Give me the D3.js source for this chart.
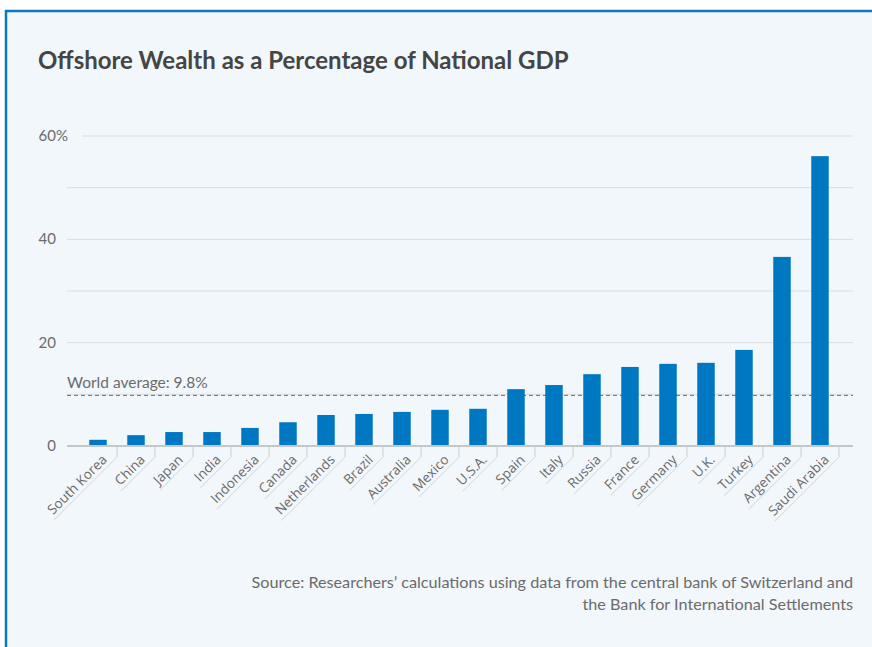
<!DOCTYPE html>
<meta charset="utf-8">
<head>
    <title>Offshore Wealth</title>
    <script type="text/javascript" src="https://cdn.jsdelivr.net/npm/d3@7"></script>
    <style>
        body {
            margin: 0;
            padding: 0;
            background: #fff;
        }
        text { font-family: Lato, sans-serif; }
        .xlab { font-family: "Open Sans", sans-serif; font-size: 13.5px; fill: #6b6b6b; }
    </style>
</head>

<body>
    <script>
        // Data
        const countries = ["South Korea", "China", "Japan", "India", "Indonesia", "Canada", "Netherlands",
            "Brazil", "Australia", "Mexico", "U.S.A.", "Spain", "Italy", "Russia", "France", "Germany",
            "U.K.", "Turkey", "Argentina", "Saudi Arabia"];
        const shares = [1.2, 2.1, 2.7, 2.7, 3.5, 4.6, 6.0, 6.2, 6.6, 7.0, 7.2, 11.0, 11.8, 13.9, 15.3,
            15.9, 16.1, 18.6, 36.6, 56.1];
        const yTicks = [0, 20, 40, 60];
        const gridTicks = [0, 10, 20, 30, 40, 50, 60];
        const worldAverage = 9.8;

        const width = 872, height = 647;
        const plot = {left: 67, right: 853, top: 136, bottom: 446};

        const svg = d3.select("body")
            .append("svg")
            .attr("width", width)
            .attr("height", height);

        // panel background and blue border
        svg.append("rect")
            .attr("x", 6).attr("y", 11)
            .attr("width", width).attr("height", height)
            .attr("fill", "#f2f7fb");
        svg.append("line")
            .attr("x1", 5).attr("x2", width).attr("y1", 11).attr("y2", 11)
            .attr("stroke", "#0a78c4").attr("stroke-width", 2.5);
        svg.append("line")
            .attr("x1", 6).attr("x2", 6).attr("y1", 10).attr("y2", height)
            .attr("stroke", "#0a78c4").attr("stroke-width", 2.5);

        svg.append("text")
            .attr("x", 38).attr("y", 69)
            .attr("font-size", 24).attr("font-weight", "bold")
            .attr("fill", "#454545")
            .text("Offshore Wealth as a Percentage of National GDP");

        const x = d3.scaleBand()
            .domain(countries)
            .range([79, 839])
            .paddingInner(0.54)
            .paddingOuter(0.27);

        const y = d3.scaleLinear()
            .domain([0, 60])
            .range([plot.bottom, plot.top]);

        // gridlines
        svg.append("g")
            .selectAll("line")
            .data(gridTicks.filter(d => d > 0))
            .enter()
            .append("line")
            .attr("x1", d => d === 60 ? 82 : plot.left)
            .attr("x2", plot.right)
            .attr("y1", d => y(d)).attr("y2", d => y(d))
            .attr("stroke", "#d9dcdf").attr("stroke-width", 1);

        // y labels
        svg.append("g")
            .selectAll("text")
            .data(yTicks)
            .enter()
            .append("text")
            .attr("x", 56)
            .attr("y", d => y(d) + 5)
            .attr("text-anchor", "end")
            .attr("font-size", 15)
            .attr("fill", "#6b6b6b")
            .text(d => d);
        svg.append("text")
            .attr("x", 56).attr("y", y(60) + 5)
            .attr("font-size", 15).attr("fill", "#6b6b6b")
            .text("%");

        // world average
        svg.append("line")
            .attr("x1", plot.left).attr("x2", plot.right)
            .attr("y1", y(worldAverage)).attr("y2", y(worldAverage))
            .attr("stroke", "#6b6b6b").attr("stroke-width", 1)
            .attr("stroke-dasharray", "4,3");
        svg.append("text")
            .attr("x", plot.left).attr("y", 388)
            .attr("font-size", 15.5).attr("fill", "#6b6b6b")
            .text(`World average: ${worldAverage}%`);

        // bars
        svg.append("g")
            .selectAll("rect")
            .data(countries)
            .enter()
            .append("rect")
            .attr("x", d => x(d))
            .attr("width", x.bandwidth())
            .attr("y", (d, i) => y(shares[i]))
            .attr("height", (d, i) => y(0) - y(shares[i]))
            .attr("fill", "#0077c1");

        // x axis line
        svg.append("line")
            .attr("x1", plot.left).attr("x2", plot.right)
            .attr("y1", plot.bottom).attr("y2", plot.bottom)
            .attr("stroke", "#c4c7ca").attr("stroke-width", 2);

        // x ticks with rotated labels and underlines
        const tickY = plot.bottom + 11;
        const ticks = svg.append("g")
            .selectAll("g")
            .data(countries)
            .enter()
            .append("g");

        ticks.append("line")
            .attr("x1", d => x(d) + x.bandwidth() / 2 + x.step() / 2)
            .attr("x2", d => x(d) + x.bandwidth() / 2 + x.step() / 2)
            .attr("y1", plot.bottom + 1).attr("y2", tickY)
            .attr("stroke", "#d9dcdf").attr("stroke-width", 1.5);

        const rot = ticks.append("g")
            .attr("transform", d => `translate(${x(d) + x.bandwidth() / 2 + x.step() / 2},${tickY}) rotate(-45)`);

        rot.append("text")
            .attr("class", "xlab")
            .attr("x", -9).attr("y", -4)
            .attr("text-anchor", "end")
            .text(d => d);

        rot.append("line")
            .attr("x1", 0).attr("y1", 0)
            .attr("x2", function() {
                const t = d3.select(this.parentNode).select("text").node();
                return -(t.getComputedTextLength() + 12);
            })
            .attr("y2", 0)
            .attr("stroke", "#d9dcdf").attr("stroke-width", 1);

        // source note
        const note = svg.append("text")
            .attr("text-anchor", "end")
            .attr("font-size", 16.2)
            .attr("fill", "#6b6b6b");
        note.append("tspan").attr("x", plot.right).attr("y", 588)
            .text("Source: Researchers\u2019 calculations using data from the central bank of Switzerland and");
        note.append("tspan").attr("x", plot.right).attr("y", 610)
            .text("the Bank for International Settlements");
    </script>
</body>
</html>
